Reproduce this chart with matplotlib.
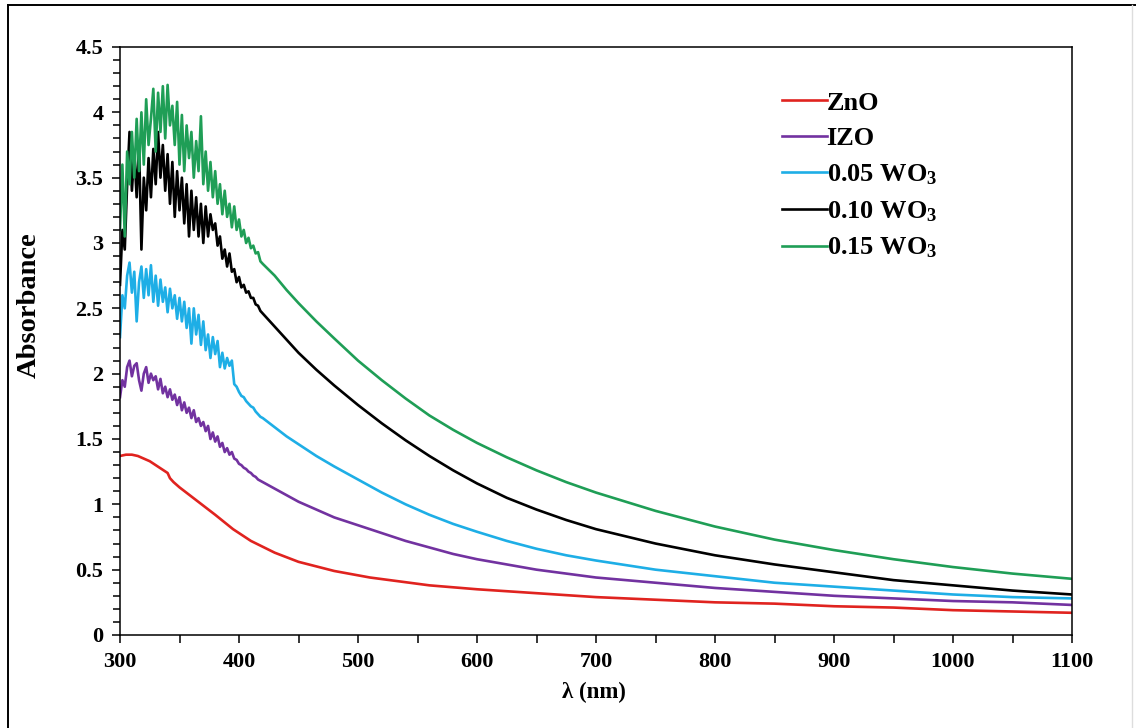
import matplotlib
matplotlib.use('Agg')
import matplotlib.pyplot as plt
from matplotlib.lines import Line2D
from matplotlib.ticker import MultipleLocator

plt.rcParams['font.family'] = 'Liberation Serif'
plt.rcParams['font.weight'] = 'bold'
plt.rcParams['mathtext.fontset'] = 'custom'
plt.rcParams['mathtext.rm'] = 'Liberation Serif:bold'
plt.rcParams['mathtext.it'] = 'Liberation Serif:bold:italic'
plt.rcParams['mathtext.bf'] = 'Liberation Serif:bold'

# --- Absorption spectra (nm, absorbance) ---
# noisy band-edge region, sampled every 2 nm
wl_edge = list(range(300, 421, 2))
# smooth tail
wl_tail = [430, 440, 450, 465, 480, 500, 520, 540, 560, 580, 600, 625, 650,
           675, 700, 750, 800, 850, 900, 950, 1000, 1050, 1100]

wl_zno = [300, 305, 310, 315, 320, 325, 330, 335, 340, 342, 345, 350, 360, 370,
          380, 395, 410, 430, 450, 480, 510, 560, 600, 650, 700, 750, 800, 850,
          900, 950, 1000, 1050, 1100]
abs_zno = [1.37, 1.38, 1.38, 1.37, 1.35, 1.33, 1.30, 1.27, 1.24, 1.20, 1.17, 1.13,
           1.06, 0.99, 0.92, 0.81, 0.72, 0.63, 0.56, 0.49, 0.44, 0.38, 0.35, 0.32,
           0.29, 0.27, 0.25, 0.24, 0.22, 0.21, 0.19, 0.18, 0.17]

izo_edge = [1.82, 1.95, 1.90, 2.05, 2.10, 1.98, 2.06, 2.08, 1.95, 1.87,
            2.00, 2.05, 1.93, 2.00, 1.95, 1.98, 1.88, 1.96, 1.85, 1.90,
            1.82, 1.88, 1.80, 1.84, 1.76, 1.82, 1.72, 1.78, 1.70, 1.74,
            1.66, 1.72, 1.63, 1.66, 1.60, 1.63, 1.56, 1.60, 1.50, 1.55,
            1.48, 1.52, 1.44, 1.47, 1.40, 1.43, 1.38, 1.40, 1.35, 1.34,
            1.31, 1.30, 1.28, 1.27, 1.25, 1.24, 1.22, 1.21, 1.19, 1.18,
            1.17]
izo_tail = [1.12, 1.07, 1.02, 0.96, 0.90, 0.84, 0.78, 0.72, 0.67, 0.62, 0.58,
            0.54, 0.50, 0.47, 0.44, 0.40, 0.36, 0.33, 0.30, 0.28, 0.26, 0.25, 0.23]

wo05_edge = [2.28, 2.60, 2.50, 2.75, 2.85, 2.62, 2.78, 2.40, 2.70, 2.82,
             2.58, 2.80, 2.60, 2.83, 2.55, 2.75, 2.52, 2.72, 2.55, 2.66,
             2.47, 2.65, 2.50, 2.60, 2.42, 2.58, 2.40, 2.55, 2.35, 2.50,
             2.23, 2.50, 2.30, 2.45, 2.22, 2.40, 2.18, 2.30, 2.12, 2.28,
             2.15, 2.25, 2.05, 2.16, 2.04, 2.12, 2.06, 2.10, 1.92, 1.90,
             1.86, 1.83, 1.82, 1.79, 1.77, 1.75, 1.74, 1.71, 1.69, 1.67,
             1.66]
wo05_tail = [1.59, 1.52, 1.46, 1.37, 1.29, 1.19, 1.09, 1.00, 0.92, 0.85, 0.79,
             0.72, 0.66, 0.61, 0.57, 0.50, 0.45, 0.40, 0.37, 0.34, 0.31, 0.29, 0.28]

wo10_edge = [2.68, 3.10, 2.95, 3.45, 3.85, 3.40, 3.70, 3.35, 3.75, 2.95,
             3.50, 3.25, 3.65, 3.35, 3.72, 3.45, 3.85, 3.50, 3.75, 3.40,
             3.68, 3.30, 3.62, 3.20, 3.55, 3.25, 3.50, 3.15, 3.45, 3.05,
             3.40, 3.10, 3.35, 3.05, 3.30, 3.00, 3.28, 3.05, 3.22, 3.10,
             3.15, 2.98, 3.05, 2.88, 2.95, 2.82, 2.92, 2.78, 2.80, 2.70,
             2.74, 2.66, 2.68, 2.62, 2.63, 2.58, 2.58, 2.53, 2.52, 2.48,
             2.46]
wo10_tail = [2.36, 2.26, 2.16, 2.03, 1.91, 1.76, 1.62, 1.49, 1.37, 1.26, 1.16,
             1.05, 0.96, 0.88, 0.81, 0.70, 0.61, 0.54, 0.48, 0.42, 0.38, 0.34, 0.31]

wo15_edge = [3.10, 3.60, 3.05, 3.70, 3.45, 3.85, 3.50, 3.95, 3.55, 4.00,
             3.60, 4.10, 3.75, 3.95, 4.18, 3.70, 4.15, 3.85, 4.20, 3.80,
             4.21, 3.90, 4.05, 3.75, 4.08, 3.60, 3.98, 3.55, 3.90, 3.65,
             3.85, 3.50, 3.78, 3.55, 3.97, 3.45, 3.70, 3.40, 3.62, 3.35,
             3.55, 3.30, 3.45, 3.22, 3.40, 3.20, 3.30, 3.12, 3.28, 3.10,
             3.18, 3.05, 3.10, 3.00, 3.04, 2.96, 2.98, 2.92, 2.93, 2.86,
             2.84]
wo15_tail = [2.75, 2.64, 2.54, 2.40, 2.27, 2.10, 1.95, 1.81, 1.68, 1.57, 1.47,
             1.36, 1.26, 1.17, 1.09, 0.95, 0.83, 0.73, 0.65, 0.58, 0.52, 0.47, 0.43]

labels = ['ZnO', 'IZO', r'0.05 WO$_3$', r'0.10 WO$_3$', r'0.15 WO$_3$']
colors = ['#e0231f', '#7232a0', '#1eaee6', '#000000', '#1f9e56']

wl_full = wl_edge + wl_tail
series = [
    (wl_zno, abs_zno),
    (wl_full, izo_edge + izo_tail),
    (wl_full, wo05_edge + wo05_tail),
    (wl_full, wo10_edge + wo10_tail),
    (wl_full, wo15_edge + wo15_tail),
]

W, H = 1136, 728
fig = plt.figure(figsize=(W / 100, H / 100), dpi=100)
ax = fig.add_axes([120 / W, 1 - 635 / H, 952 / W, 588 / H])

for (x, y), lab, c in zip(series, labels, colors):
    ax.plot(x, y, color=c, lw=1.9, label=lab)

ax.set_xlim(300, 1100)
ax.set_ylim(0, 4.5)
ax.xaxis.set_major_locator(MultipleLocator(100))
ax.xaxis.set_minor_locator(MultipleLocator(50))
ax.yaxis.set_major_locator(MultipleLocator(0.5))
ax.yaxis.set_minor_locator(MultipleLocator(0.1))
ax.yaxis.set_major_formatter(lambda v, p: f'{v:g}')
ax.tick_params(which='both', direction='out', width=1.1, labelsize=16)
ax.tick_params(axis='y', which='major', length=6, pad=6)
ax.tick_params(axis='y', which='minor', length=5)
ax.tick_params(axis='x', which='both', length=6, pad=6)
for s in ax.spines.values():
    s.set_linewidth(1.1)

# axis titles placed in pixel positions
fig.text(594 / W, 1 - 692 / H, 'λ (nm)', fontsize=16.5, fontweight='bold',
         ha='center', va='center')
fig.text(29 / W, 1 - 305 / H, 'Absorbance', fontsize=20.5, fontweight='bold',
         rotation=90, ha='center', va='center')

leg = ax.legend(loc='upper left', bbox_to_anchor=(0.695, 0.925), frameon=False,
                fontsize=19, handlelength=1.7, handletextpad=0.0,
                labelspacing=0.46, borderaxespad=0, borderpad=0)

# outer frame
fig.add_artist(Line2D([8 / W, 1], [1 - 5 / H, 1 - 5 / H], color='black', lw=1.4))
fig.add_artist(Line2D([8 / W, 8 / W], [0, 1 - 5 / H], color='black', lw=1.4))
fig.add_artist(Line2D([1132 / W, 1132 / W], [0, 1 - 5 / H], color='#dddddd', lw=1))

fig.savefig('out.png', dpi=100)
